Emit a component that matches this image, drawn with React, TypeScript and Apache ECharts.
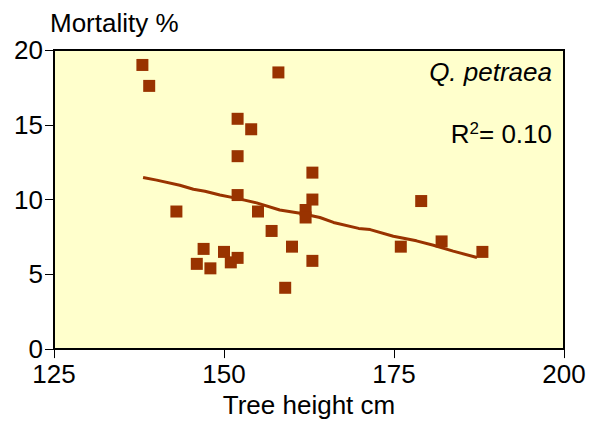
import React, { useEffect, useRef } from 'react';
import * as echarts from 'echarts';

const heights = [138, 139, 158, 152, 154, 152, 163, 152, 163, 143, 155, 162, 162, 157, 160, 147, 150, 152, 151, 146, 148, 163, 159, 179, 176, 182, 188];
const mortality = [19.0, 17.6, 18.5, 15.4, 14.7, 12.9, 11.8, 10.3, 10.0, 9.2, 9.2, 9.3, 8.8, 7.9, 6.85, 6.7, 6.5, 6.1, 5.8, 5.7, 5.4, 5.9, 4.1, 9.9, 6.85, 7.2, 6.5];
const trendX = [138.1, 140.1, 143.5, 145.5, 147.2, 149.4, 151.9, 154.8, 158.2, 161.2, 164.1, 166.1, 169.8, 171.5, 174.9, 178.3, 180.8, 183.7, 187.2];
const trendY = [11.48, 11.3, 10.96, 10.69, 10.56, 10.3, 10.08, 9.78, 9.3, 9.08, 8.8, 8.47, 8.07, 7.99, 7.55, 7.24, 6.94, 6.55, 6.13];
const xRange = [125, 200];
const yRange = [0, 20];
const speciesLabel = 'Q. petraea';
const r2Value = '0.10';

const FONT = '"Liberation Sans", Arial, Helvetica, sans-serif';
const BROWN = '#993300';

export default function App() {
  const ref = useRef<HTMLDivElement>(null);
  useEffect(() => {
    if (!ref.current) return;
    const chart = echarts.init(ref.current, undefined, { renderer: 'svg' });
    chart.setOption({
      animation: false,
      backgroundColor: '#ffffff',
      grid: {
        left: 54,
        top: 50,
        width: 510,
        height: 305,
        show: true,
        backgroundColor: '#FFFFCC',
        borderColor: '#000',
        borderWidth: 2,
      },
      xAxis: {
        type: 'value',
        min: xRange[0],
        max: xRange[1],
        interval: 25,
        name: 'Tree height cm',
        nameLocation: 'middle',
        nameGap: 41,
        nameTextStyle: { color: '#000', fontSize: 26, fontFamily: FONT },
        axisLine: { show: true, lineStyle: { color: '#000', width: 2 } },
        axisTick: { show: true, length: 9, lineStyle: { color: '#000', width: 1 } },
        axisLabel: { color: '#000', fontSize: 26, fontFamily: FONT, margin: 12 },
        splitLine: { show: false },
      },
      yAxis: {
        type: 'value',
        min: yRange[0],
        max: yRange[1],
        interval: 5,
        axisLine: { show: true, lineStyle: { color: '#000', width: 2 } },
        axisTick: { show: true, length: 9, lineStyle: { color: '#000', width: 1 } },
        axisLabel: { color: '#000', fontSize: 26, fontFamily: FONT, margin: 11 },
        splitLine: { show: false },
      },
      graphic: [
        {
          type: 'text',
          x: 50,
          y: 23,
          style: { text: 'Mortality %', fill: '#000', font: `26px ${FONT}`, align: 'left', verticalAlign: 'middle' },
        },
        {
          type: 'text',
          x: 552,
          y: 72,
          style: { text: speciesLabel, fill: '#000', font: `italic 26px ${FONT}`, align: 'right', verticalAlign: 'middle' },
        },
        {
          type: 'text',
          x: 552,
          y: 134,
          style: {
            text: `{a|R}{s|2}{a|= ${r2Value}}`,
            align: 'right',
            verticalAlign: 'middle',
            rich: {
              a: { fill: '#000', fontSize: 26, fontFamily: FONT },
              s: { fill: '#000', fontSize: 17, fontFamily: FONT, padding: [0, 0, 12, 0] },
            },
          },
        },
      ],
      series: [
        {
          type: 'line',
          data: trendX.map((x, i) => [x, trendY[i]]),
          showSymbol: false,
          symbol: 'none',
          lineStyle: { color: BROWN, width: 3 },
          z: 2,
        },
        {
          type: 'scatter',
          data: heights.map((x, i) => [x, mortality[i]]),
          symbol: 'rect',
          symbolSize: 12,
          itemStyle: { color: BROWN, opacity: 1 },
          z: 3,
        },
      ],
    });
    return () => chart.dispose();
  }, []);
  return <div ref={ref} style={{ position: 'fixed', left: 0, top: 0, width: 595, height: 423 }} />;
}
